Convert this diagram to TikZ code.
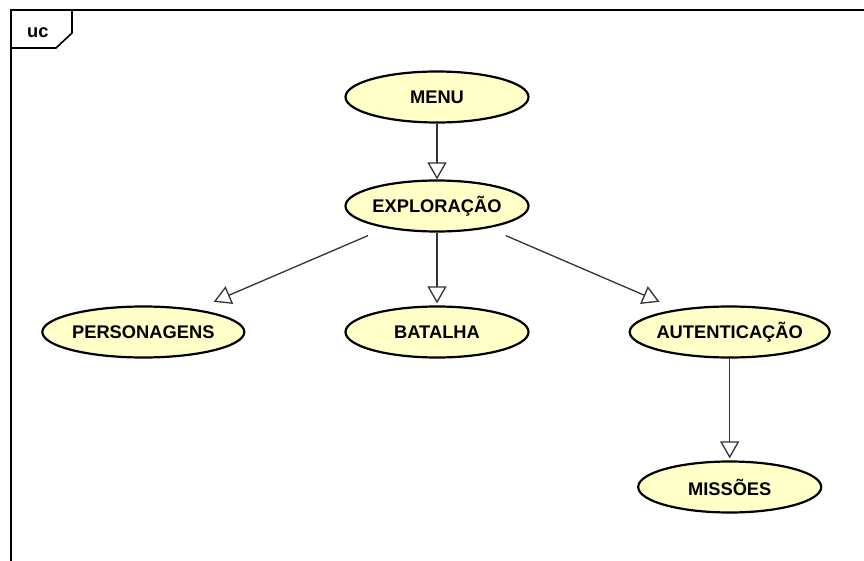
\documentclass[tikz,border=0pt]{standalone}
\usepackage{fontspec}
\setmainfont{Liberation Sans}
\usetikzlibrary{shapes.geometric, arrows.meta, positioning}
\definecolor{cCase}{RGB}{255,255,200}
\definecolor{cLine}{RGB}{51,51,51}
\tikzset{
	usecase/.style={ellipse, draw=black, line width=2.2pt, fill=cCase, minimum width=183pt, minimum height=51pt, inner sep=0pt, font=\fontsize{18.3}{20}\selectfont\bfseries},
	genarrow/.style={-{Triangle[fill=white, length=17pt, width=19pt]}, draw=cLine, line width=1.3pt},
	frameline/.style={draw=black, line width=1.6pt},
}
\begin{document}
\begin{tikzpicture}[x=1pt, y=-1pt]
	\useasboundingbox (0,0) rectangle (864,561);
	% frame with tab
	\draw[frameline] (11,561) -- (11,10) -- (864,10);
	\draw[frameline] (11,48) -- (56,48) -- (72,33) -- (72,10);
	\node[anchor=base west, inner sep=0pt, font=\fontsize{18.3}{20}\selectfont\bfseries] (uc) at (27,38) {uc};
	% use cases
	\node[usecase] (menu) at (437,97) {MENU};
	\node[usecase, below=55.8pt of menu] (explor) {EXPLORAÇÃO};
	\node[usecase, below=72.8pt of explor] (batalha) {BATALHA};
	\node[usecase, minimum width=202pt, left=99pt of batalha] (person) {PERSONAGENS};
	\node[usecase, minimum width=200pt, inner xsep=-3pt, right=99pt of batalha] (autent) {AUTENTICAÇÃO};
	\node[usecase, below=101.8pt of autent] (missoes) {MISSÕES};
	% generalizations
	\draw[genarrow] (menu) -- (explor);
	\draw[genarrow, shorten >=2pt] (explor) -- (batalha);
	\draw[genarrow, shorten <=19pt, shorten >=19pt] (explor) -- (person);
	\draw[genarrow, shorten <=19pt, shorten >=19pt] (explor) -- (autent);
	\draw[genarrow, shorten >=2pt] (autent) -- (missoes);
\end{tikzpicture}
\end{document}
